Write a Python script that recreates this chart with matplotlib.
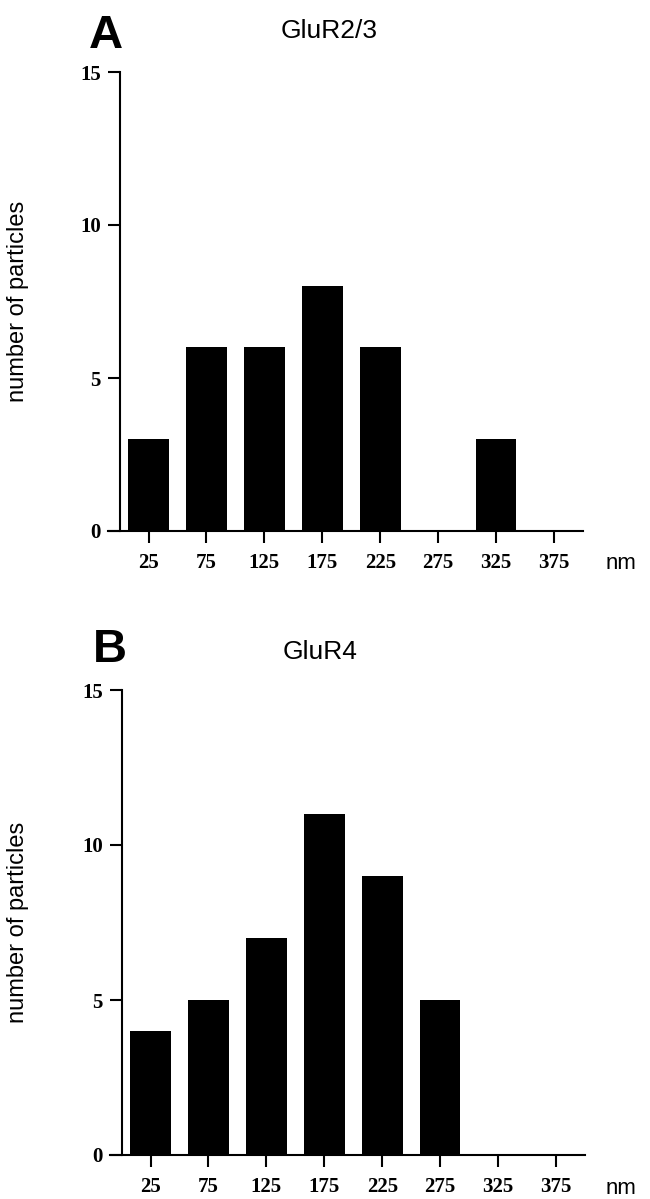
import matplotlib
matplotlib.use("Agg")
import matplotlib.pyplot as plt

# 数据
bins = [25, 75, 125, 175, 225, 275, 325, 375]
tick_labels = ["25", "75", "125", "175", "225", "275", "325", "375"]
glur23 = [3, 6, 6, 8, 6, 0, 3, 0]
glur4 = [4, 5, 7, 11, 9, 5, 0, 0]
y_ticks = [0, 5, 10, 15]

fig = plt.figure(figsize=(6.5, 11.99), dpi=100)

# 面板位置 (left, bottom, width, height)，按像素换算
panels = [
    ("A", "GluR2/3", glur23, [108 / 650, 1 - 531 / 1199, 475 / 650, 459 / 1199], 106, 36, 329, 31),
    ("B", "GluR4", glur4, [110 / 650, 1 - 1155 / 1199, 475 / 650, 465 / 1199], 110, 650, 320, 652),
]

for letter, title, counts, rect, lx, ly, tx, ty in panels:
    ax = fig.add_axes(rect)
    ax.bar(bins, counts, width=35, color="black", edgecolor="none")
    ax.set_xlim(-10, 400)
    ax.set_ylim(0, 15)
    ax.spines["top"].set_visible(False)
    ax.spines["right"].set_visible(False)
    ax.spines["left"].set_position(("data", 0))
    ax.spines["left"].set_linewidth(1.5)
    ax.spines["bottom"].set_linewidth(1.5)
    ax.set_xticks(bins)
    ax.set_xticklabels(tick_labels)
    ax.set_yticks(y_ticks)
    ax.tick_params(axis="both", direction="out", length=8.5, width=1.5)
    ax.tick_params(axis="x", pad=7)
    ax.tick_params(axis="y", pad=5)
    for lab in ax.get_xticklabels() + ax.get_yticklabels():
        lab.set_fontfamily("Liberation Serif")
        lab.set_fontweight("bold")
        lab.set_fontsize(15)
    ax.set_ylabel("number of particles", fontfamily="Liberation Sans", fontsize=17)
    ax.yaxis.set_label_coords((29 - rect[0] * 650) / 475, 0.5)
    # 单位 nm
    y0 = rect[1] * 1199
    fig.text(621 / 650, (y0 - 33) / 1199, "nm", fontfamily="Liberation Sans",
             fontsize=16, ha="center", va="center")
    # 面板字母和标题
    fig.text(lx / 650, 1 - ly / 1199, letter, fontfamily="Liberation Sans",
             fontweight="bold", fontsize=34, ha="center", va="center")
    fig.text(tx / 650, 1 - ty / 1199, title, fontfamily="Liberation Sans",
             fontsize=19, ha="center", va="center")

fig.savefig("out.png", dpi=100)
